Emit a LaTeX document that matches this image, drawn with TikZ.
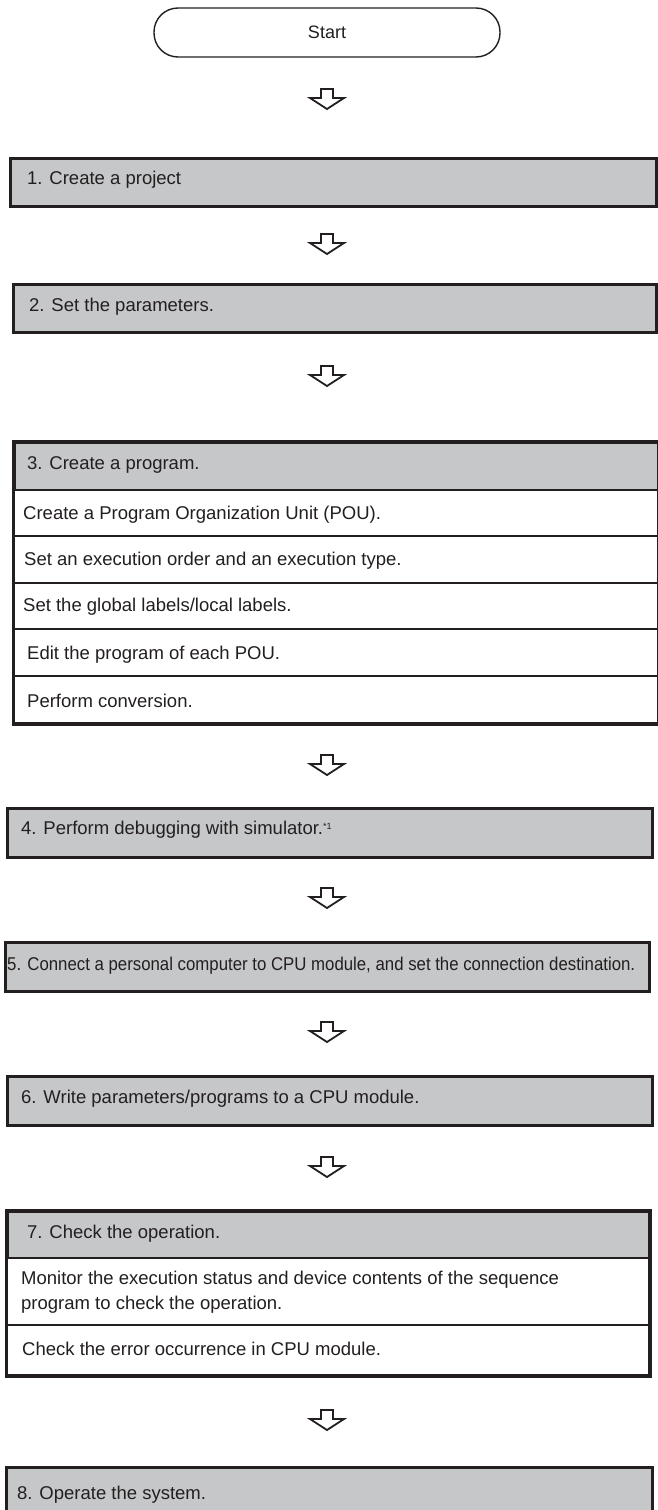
\documentclass[tikz,border=0pt]{standalone}
\usepackage{fontspec}
\setmainfont{Liberation Sans}
\usepackage{graphicx}
\usetikzlibrary{calc}
\definecolor{ink}{HTML}{231F20}
\definecolor{boxgray}{HTML}{C6C7C9}
\tikzset{
  stepbox/.style={draw=ink, line width=2.6pt, fill=boxgray, inner sep=0pt, anchor=north west},
  rowbox/.style={draw=ink, line width=2.2pt, fill=white, inner sep=0pt, anchor=north west},
  startbox/.style={draw=ink, line width=1.4pt, fill=white, rounded corners=24pt, inner sep=0pt, text=ink, font=\fontsize{18}{22}\selectfont},
  lbl/.style={anchor=west, inner sep=0pt, text=ink, font=\fontsize{18.5}{25}\selectfont},
  flowarrow/.style={draw=ink, line width=1.8pt, fill=white, line join=miter}
}
\newcommand{\flowarrowat}[1]{%
  \draw[flowarrow] ($(#1)+(-6,-10)$) -- ++(12,0) -- ++(0,9) -- ++(11,0)
    -- ($(#1)+(0,10)$) -- ($(#1)+(-17,-1)$) -- ++(11,0) -- cycle;}
\begin{document}
\begin{tikzpicture}[x=1pt,y=-1pt]
\useasboundingbox (0,0) rectangle (658,1510);
\clip (0,0) rectangle (658,1510);

% Start
\node[startbox, minimum width=346pt, minimum height=49pt] (start) at (327,32.5) {Start};

% Box 1
\node[stepbox, minimum width=646pt, minimum height=48pt] (b1) at (9,157) {};
\node[lbl] (t1) at ($(b1.west)+(18,-3)$) {1. Create a project};

% Box 2
\node[stepbox, minimum width=643pt, minimum height=48pt] (b2) at (12,283) {};
\node[lbl] (t2) at ($(b2.west)+(17,-2)$) {2. Set the parameters.};

% Box 3
\node[stepbox, minimum width=644pt, minimum height=48pt] (b3) at (13,441) {};
\node[rowbox, minimum width=644pt, minimum height=46pt] (b3a) at (13,489) {};
\node[rowbox, minimum width=644pt, minimum height=47pt] (b3b) at (13,535) {};
\node[rowbox, minimum width=644pt, minimum height=46pt] (b3c) at (13,582) {};
\node[rowbox, minimum width=644pt, minimum height=47pt] (b3d) at (13,628) {};
\node[rowbox, minimum width=644pt, minimum height=47pt] (b3e) at (13,675) {};
\draw[draw=ink, line width=2.6pt] (b3.north west) rectangle (b3e.south east);
\node[lbl] (t3) at ($(b3.west)+(14,-1)$) {3. Create a program.};
\node[lbl] (t3a) at ($(b3a.west)+(10,2)$) {Create a Program Organization Unit (POU).};
\node[lbl] (t3b) at ($(b3b.west)+(11,1)$) {Set an execution order and an execution type.};
\node[lbl] (t3c) at ($(b3c.west)+(10,1)$) {Set the global labels/local labels.};
\node[lbl] (t3d) at ($(b3d.west)+(14,2)$) {Edit the program of each POU.};
\node[lbl] (t3e) at ($(b3e.west)+(14,1)$) {Perform conversion.};

% Box 4
\node[stepbox, minimum width=645pt, minimum height=49pt] (b4) at (6,807) {};
\node[lbl] (t4) at ($(b4.west)+(15,-3)$) {4. Perform debugging with simulator.{\fontsize{9}{10}\selectfont\raisebox{5pt}{*1}}};

% Box 5
\node[stepbox, minimum width=644pt, minimum height=49pt] (b5) at (4,941) {};
\node[lbl] (t5) at ($(b5.west)+(3,-1)$) {\resizebox{628pt}{\height}{5. Connect a personal computer to CPU module, and set the connection destination.}};

% Box 6
\node[stepbox, minimum width=645pt, minimum height=49pt] (b6) at (6,1075) {};
\node[lbl] (t6) at ($(b6.west)+(15,-2)$) {6. Write parameters/programs to a CPU module.};

% Box 7
\node[stepbox, minimum width=642pt, minimum height=47pt] (b7) at (6,1210) {};
\node[rowbox, minimum width=642pt, minimum height=67pt] (b7a) at (6,1257) {};
\node[rowbox, minimum width=642pt, minimum height=50pt] (b7b) at (6,1324) {};
\draw[draw=ink, line width=2.6pt] (b7.north west) rectangle (b7b.south east);
\node[lbl] (t7) at ($(b7.west)+(21,-1)$) {7. Check the operation.};
\node[lbl, align=left] (t7a) at ($(b7a.west)+(15,1)$) {Monitor the execution status and device contents of the sequence\\program to check the operation.};
\node[lbl] (t7b) at ($(b7b.west)+(16,-1)$) {Check the error occurrence in CPU module.};

% Box 8
\node[stepbox, minimum width=646pt, minimum height=62pt] (b8) at (5,1466) {};
\node[lbl] (t8) at ($(b8.west)+(12,-4)$) {8. Operate the system.};

% Arrows
\coordinate (a1) at (327,99);
\coordinate (a2) at (327,244);
\coordinate (a3) at (327,376);
\coordinate (a4) at (327,765);
\coordinate (a5) at (327,898);
\coordinate (a6) at (327,1032);
\coordinate (a7) at (327,1167);
\coordinate (a8) at (327,1420);
\flowarrowat{a1}
\flowarrowat{a2}
\flowarrowat{a3}
\flowarrowat{a4}
\flowarrowat{a5}
\flowarrowat{a6}
\flowarrowat{a7}
\flowarrowat{a8}
\end{tikzpicture}
\end{document}
